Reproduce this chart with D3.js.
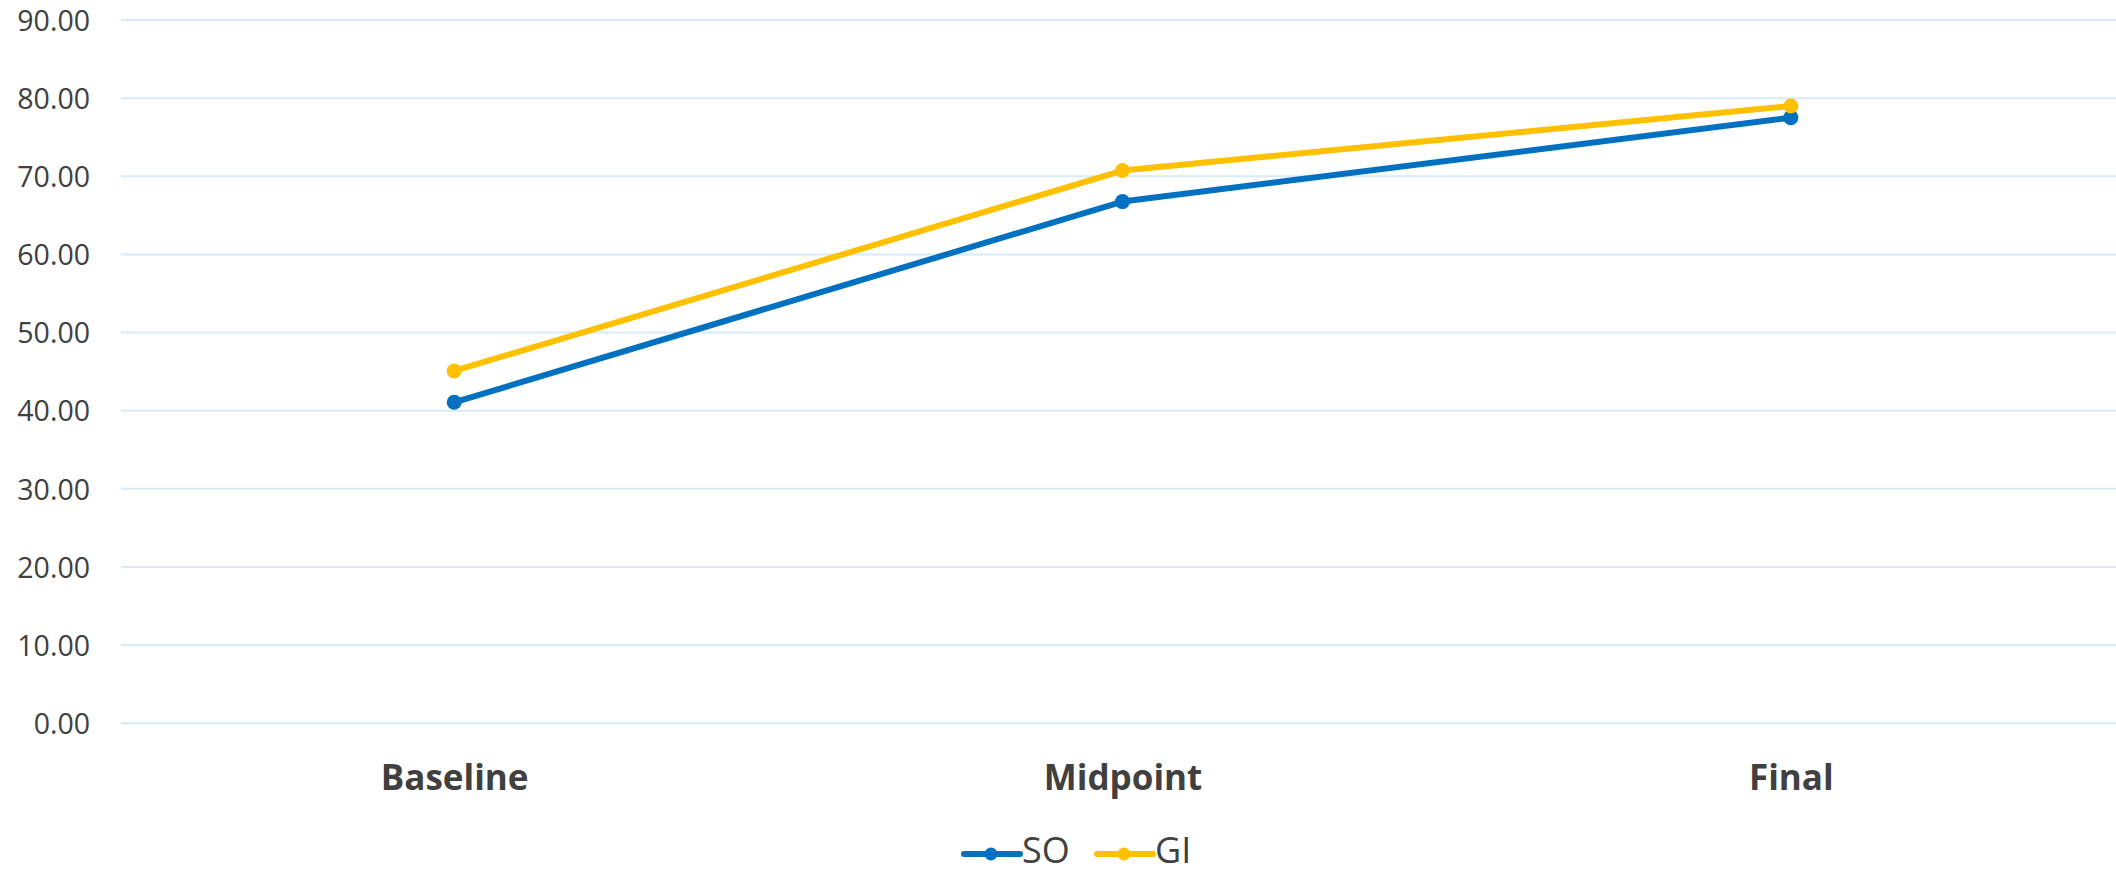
<!DOCTYPE html>
<html>
<head>
<meta charset="utf-8">
<script src="https://cdn.jsdelivr.net/npm/d3@7"></script>
<style>
  html, body { margin: 0; padding: 0; background: #ffffff; }
  svg { display: block; }
  text { font-family: "Open Sans", "Noto Sans", sans-serif; fill: #404040; }
</style>
</head>
<body>
<svg id="chart" width="2116" height="874"></svg>
<script>
// Score data by assessment stage
const categories = ["Baseline", "Midpoint", "Final"];
const soValues = [41.07, 66.76, 77.5];
const giValues = [45.08, 70.73, 79.0];
const yTicks = [0, 10, 20, 30, 40, 50, 60, 70, 80, 90];
const seriesNames = ["SO", "GI"];
const seriesColors = ["#0070C0", "#FFC000"];

const series = [
  { name: seriesNames[0], values: soValues, color: seriesColors[0] },
  { name: seriesNames[1], values: giValues, color: seriesColors[1] }
];

const width = 2116, height = 874;
const svg = d3.select("#chart");

const plotLeft = 120, plotRight = 2125, gridRight = 2116;
const x = d3.scalePoint().domain(categories).range([plotLeft, plotRight]).padding(0.5);
const y = d3.scaleLinear().domain([0, 90]).range([723.2, 20]);

// Horizontal gridlines
svg.append("g")
  .selectAll("line")
  .data(yTicks)
  .join("line")
  .attr("x1", plotLeft + 1)
  .attr("x2", gridRight)
  .attr("y1", d => y(d))
  .attr("y2", d => y(d))
  .attr("stroke", "#d6eaf8")
  .attr("stroke-width", 2);

// Y axis labels
const yAxis = d3.axisLeft(y).tickValues(yTicks).tickFormat(d3.format(".2f")).tickSize(0).tickPadding(0);
const yAxisG = svg.append("g").attr("transform", "translate(90,0)").call(yAxis);
yAxisG.select(".domain").remove();
yAxisG.selectAll("text")
  .attr("dy", "0.36em")
  .style("font-size", "28.5px")
  .style("font-family", "'Open Sans', 'Noto Sans', sans-serif")
  .attr("fill", "#404040");

// Category labels
const xAxis = d3.axisBottom(x).tickSize(0).tickPadding(0);
const xAxisG = svg.append("g").attr("transform", "translate(0,790)").call(xAxis);
xAxisG.select(".domain").remove();
xAxisG.selectAll("text")
  .attr("y", 0)
  .attr("dy", 0)
  .style("font-size", "35px")
  .style("font-weight", "bold")
  .style("font-family", "'Open Sans', 'Noto Sans', sans-serif")
  .attr("fill", "#404040");

// Series lines and markers
const line = d3.line()
  .x((d, i) => x(categories[i]))
  .y(d => y(d));

const sg = svg.append("g")
  .selectAll("g")
  .data(series)
  .join("g");

sg.append("path")
  .attr("d", d => line(d.values))
  .attr("fill", "none")
  .attr("stroke", d => d.color)
  .attr("stroke-width", 6)
  .attr("stroke-linejoin", "round")
  .attr("stroke-linecap", "round");

sg.each(function(s) {
  d3.select(this).selectAll("circle")
    .data(s.values)
    .join("circle")
    .attr("cx", (d, i) => x(categories[i]))
    .attr("cy", d => y(d))
    .attr("r", 7.5)
    .attr("fill", s.color);
});

// Legend
const legendItems = [
  { name: series[0].name, color: series[0].color, x0: 964 },
  { name: series[1].name, color: series[1].color, x0: 1097 }
];
const legendY = 854;
const lg = svg.append("g")
  .selectAll("g")
  .data(legendItems)
  .join("g")
  .attr("transform", d => `translate(${d.x0},${legendY})`);

lg.append("line")
  .attr("x1", 0).attr("x2", 56)
  .attr("y1", 0).attr("y2", 0)
  .attr("stroke", d => d.color)
  .attr("stroke-width", 6)
  .attr("stroke-linecap", "round");

lg.append("circle")
  .attr("cx", 27).attr("cy", 0).attr("r", 6.5)
  .attr("fill", d => d.color);

lg.append("text")
  .attr("x", 58)
  .attr("y", 9)
  .style("font-size", "36px")
  .text(d => d.name);
</script>
</body>
</html>
